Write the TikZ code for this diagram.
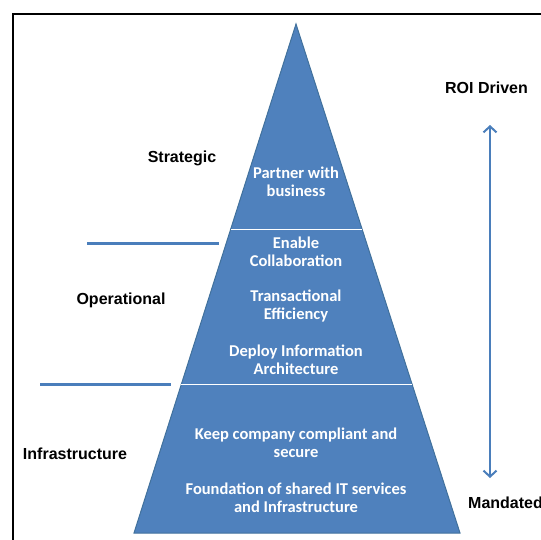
\documentclass[tikz,border=0pt]{standalone}
\usepackage{fontspec}
\setmainfont{Liberation Sans}
\newfontfamily\levelfont{Carlito}
\usetikzlibrary{arrows.meta,calc}
\definecolor{pyrblue}{HTML}{4F81BD}
\definecolor{pyredge}{HTML}{41719C}
\definecolor{markblue}{HTML}{4A7EBB}

\begin{document}
\begin{tikzpicture}[x=1pt,y=-1pt,
  level/.style={text=white, align=center, inner sep=0pt, font=\levelfont\bfseries\fontsize{16.5}{18}\selectfont},
  tier/.style={inner sep=0pt, font=\bfseries\fontsize{16}{18}\selectfont},
  marker/.style={markblue, line width=3pt}]

\useasboundingbox (0,0) rectangle (541,539);
\clip (0,0) rectangle (541,539);
\draw[line width=2pt](13,14) rectangle (600,600);

\coordinate (apex) at (296,24);
\coordinate (bl) at (134,533);
\coordinate (br) at (460,533);

  \filldraw[fill=pyrblue, draw=pyredge, line width=1pt](apex)--(br)--(bl)--cycle;

\draw[white, line width=1pt]($(apex)!0.4028!(bl)$)--($(apex)!0.4028!(br)$);
\draw[white, line width=1pt]($(apex)!0.7092!(bl)$)--($(apex)!0.7092!(br)$);

\node[level] (partner) at (296,181.5) {Partner with\\business};
\node[level] (enable) at (296,251.5) {Enable\\Collaboration};
\node[level] (trans) at (296,306) {Transactional\\Efficiency};
\node[level] (deploy) at (296,359.5) {Deploy Information\\Architecture};
\node[level] (keep) at (296,443) {Keep company compliant and\\secure};
\node[level] (found) at (296,497.5) {Foundation of shared IT services\\and Infrastructure};

\node[tier] (strategic) at (182,158) {Strategic};
\node[tier] (operational) at (121,300) {Operational};
\node[tier] (infra) at (75,454) {Infrastructure};
\node[tier] (roi) at (486.5,88) {ROI Driven};
\node[tier, anchor=west] (mandated) at (468,503) {Mandated};

\draw[marker](87,243)--(219,243);
\draw[marker](40,384)--(171,384);

\coordinate (roitip) at (490,125);
\coordinate (mandtip) at (490,478);
 
  \draw[markblue, line width=2pt, {Straight Barb[length=6pt,width=13pt]}-{Straight Barb[length=6pt,width=13pt]}](roitip)--(mandtip); 
\end{tikzpicture}
\end{document}
